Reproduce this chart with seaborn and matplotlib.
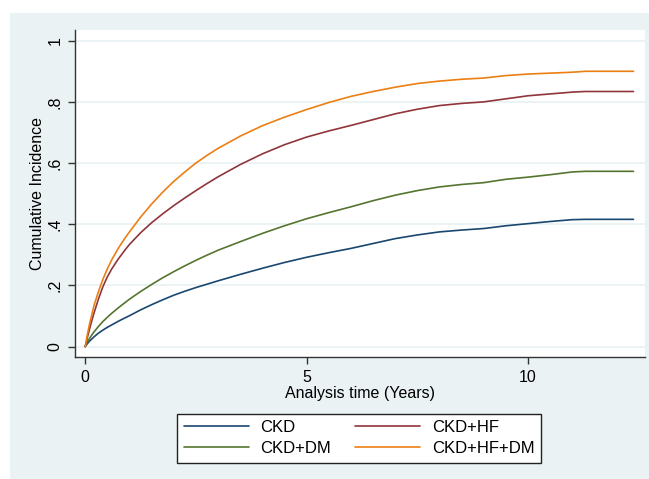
import numpy as np
import pandas as pd
import matplotlib.pyplot as plt
from matplotlib.patches import Rectangle
import seaborn as sns

# cumulative incidence
years = [0, 0.05, 0.1, 0.15, 0.2, 0.3, 0.4, 0.5, 0.6, 0.75, 0.9, 1, 1.25, 1.5, 1.75, 2,
         2.25, 2.5, 2.75, 3, 3.5, 4, 4.5, 5, 5.5, 6, 6.5, 7, 7.5, 8, 8.5, 9, 9.5, 10,
         10.5, 11, 11.3, 12.38]
ckd = [0, 0.01, 0.018, 0.025, 0.032, 0.044, 0.054, 0.063, 0.071, 0.083, 0.094, 0.101,
       0.12, 0.137, 0.153, 0.168, 0.181, 0.193, 0.204, 0.215, 0.236, 0.256, 0.275, 0.292,
       0.307, 0.321, 0.337, 0.353, 0.365, 0.375, 0.381, 0.386, 0.395, 0.402, 0.409, 0.415,
       0.416, 0.416]
ckd_hf = [0, 0.03, 0.058, 0.085, 0.11, 0.156, 0.196, 0.228, 0.254, 0.287, 0.316, 0.334,
          0.372, 0.405, 0.434, 0.461, 0.486, 0.51, 0.533, 0.555, 0.595, 0.63, 0.66, 0.685,
          0.705, 0.723, 0.742, 0.761, 0.776, 0.788, 0.795, 0.80, 0.81, 0.82, 0.826, 0.832,
          0.834, 0.834]
ckd_dm = [0, 0.015, 0.027, 0.038, 0.048, 0.066, 0.082, 0.096, 0.109, 0.127, 0.144, 0.155,
          0.18, 0.203, 0.225, 0.245, 0.264, 0.282, 0.299, 0.315, 0.343, 0.37, 0.395, 0.418,
          0.438, 0.457, 0.477, 0.495, 0.51, 0.522, 0.53, 0.536, 0.547, 0.554, 0.562, 0.571,
          0.573, 0.573]
ckd_hf_dm = [0, 0.04, 0.075, 0.105, 0.135, 0.18, 0.22, 0.254, 0.284, 0.322, 0.355, 0.375,
             0.423, 0.466, 0.505, 0.54, 0.571, 0.60, 0.625, 0.648, 0.688, 0.722, 0.75, 0.775,
             0.798, 0.818, 0.834, 0.848, 0.86, 0.868, 0.874, 0.878, 0.886, 0.891, 0.894, 0.897,
             0.90, 0.90]

groups = ['CKD', 'CKD+DM', 'CKD+HF', 'CKD+HF+DM']
series = [ckd, ckd_dm, ckd_hf, ckd_hf_dm]
colors = ['#1A476F', '#55752F', '#90353B', '#EC7F14']

df = pd.concat([pd.DataFrame({'time': years, 'ci': s, 'group': g}) for g, s in zip(groups, series)])

sns.set_theme(style='white')
plt.rcParams['font.family'] = ['Liberation Sans', 'DejaVu Sans']

fig = plt.figure(figsize=(6.49, 4.79), dpi=100, facecolor='white')
fig.patches.append(Rectangle((10 / 649, 0), 1 - 10 / 649, 1 - 13 / 479, transform=fig.transFigure,
                             facecolor='#EAF2F3', edgecolor='none', zorder=-5))
ax = fig.add_axes([75 / 649, 1 - 357 / 479, 570 / 649, 327 / 479])
ax.set_facecolor('white')

sns.lineplot(data=df, x='time', y='ci', hue='group', palette=dict(zip(groups, colors)),
             estimator=None, linewidth=1.2, ax=ax)

ax.set_xlim(-0.23, 12.64)
ax.set_ylim(-0.034, 1.035)
ax.set_xticks([0, 5, 10])
ax.set_xticklabels(['0', '5', '10'])
ax.set_yticks([0, 0.2, 0.4, 0.6, 0.8, 1])
ax.set_yticklabels(['0', '.2', '.4', '.6', '.8', '1'], rotation=90, va='center')
ax.yaxis.grid(True, color='#EAF2F3', linewidth=1.3)
ax.set_axisbelow(True)

for side in ['top', 'right']:
    ax.spines[side].set_visible(False)
for side in ['left', 'bottom']:
    ax.spines[side].set_color('#333333')
    ax.spines[side].set_linewidth(1.0)
ax.tick_params(axis='both', which='major', direction='out', length=5, width=1.0,
               color='#333333', labelsize=11.5, labelcolor='black', bottom=True, left=True)
ax.tick_params(axis='x', pad=4)
ax.tick_params(axis='y', pad=4)

ax.set_xlabel('Analysis time (Years)', fontsize=11.5, labelpad=1, color='black')
ax.set_ylabel('Cumulative Incidence', fontsize=11.5, labelpad=2, color='black')

handles, labels = ax.get_legend_handles_labels()
ax.get_legend().remove()
leg = fig.legend(handles, labels, ncol=2, loc='center', bbox_to_anchor=(359 / 649, 1 - 438 / 479),
                 fontsize=12, frameon=True, fancybox=False, framealpha=1, edgecolor='#222222',
                 handlelength=3.9, handletextpad=0.7, columnspacing=1.45, labelspacing=0.38,
                 borderpad=0.38)
leg.get_frame().set_linewidth(1.0)
for t in leg.get_texts():
    t.set_color('black')
for h in leg.get_lines():
    h.set_linewidth(1.2)

fig.savefig('out.png', dpi=100, facecolor='white')
